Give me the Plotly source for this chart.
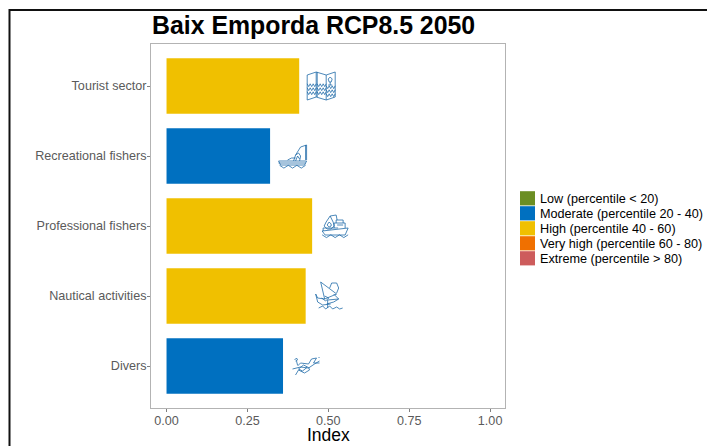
import plotly.graph_objects as go

# ---- data -------------------------------------------------------------
categories = ["Divers", "Nautical activities", "Professional fishers",
              "Recreational fishers", "Tourist sector"]
index_values = [0.36, 0.43, 0.45, 0.32, 0.41]
value_levels = [1, 2, 2, 1, 2]
legend_labels = ["Low (percentile < 20)", "Moderate (percentile 20 - 40)",
                 "High (percentile 40 - 60)", "Very high (percentile 60 - 80)",
                 "Extreme (percentile > 80)"]
legend_colors = ["#6B8E23", "#0070C0", "#F0C000", "#F07000", "#CD5C5C"]
x_ticks = [0, 0.25, 0.5, 0.75, 1]
x_tick_labels = ["0.00", "0.25", "0.50", "0.75", "1.00"]

# ---- icons: polylines, local pixels around the icon centre, y downwards --
wave = lambda x0, x1, y: [(x0 + i * (x1 - x0) / 6, y + (1.6 if i % 2 else -1.2)) for i in range(7)]
ICON_MAP = [
    [(-14, -11), (-5, -14), (5, -11), (14, -14), (14, 11), (5, 14), (-5, 11), (-14, 14), (-14, -11)],
    [(-5, -14), (-5, 11)], [(-4, -14), (-4, 11)], [(5, -11), (5, 14)],
    wave(-14, -5, -1), wave(-14, -5, 3), wave(-14, -5, 7),
    wave(-4, 5, -1), wave(-4, 5, 3), wave(-4, 5, 7),
    wave(5, 14, 1), wave(5, 14, 5), wave(5, 14, 9),
    [(7, -7), (9, -9), (11, -7), (10, -4), (8, -4), (7, -7)], [(9, -4), (9, -1)], [(7, -1), (11, -1)],
]
ICON_FISHER = [
    [(-14, 5), (14, 5), (12, 9), (-12, 9), (-14, 5)],
    [(-14, 7), (13, 7)],
    wave(-13, 13, 10.5),
    [(1, 5), (3, -1), (6, -3), (8, 0), (7, 5)],
    [(3, 5), (5, 0), (7, 3)],
    [(3, -1), (8, -9), (14, -11), (14, 4)],
    [(13, -11), (13, 4)],
    [(-5, 4), (-1, 2), (3, 2)],
]
ICON_SHIP = [
    [(-13, 5), (13, 2), (10, 9), (-10, 9), (-13, 5)],
    [(-12, 5), (-12, 2), (3, 2)],
    [(-1, 2), (-1, -3), (10, -3), (10, 2)],
    [(1, -3), (1, -6), (8, -6), (8, -3)], [(2, -1), (8, -1)],
    [(-5, -10), (-9, -4), (-11, 0), (-8, 3), (-4, 3), (-1, 0), (-2, -4), (-5, -10)],
    [(-6, -4), (-8, -1), (-6, 1), (-4, 0), (-4, -2), (-6, -4)],
    [(-5, -10), (1, -11), (2, -6)],
    wave(-13, 13, 10),
]
ICON_SAIL = [
    [(-8, -14), (8, -2), (-4, 3), (-8, -14)],
    [(1, -8), (3, -13), (8, -13), (10, -8), (8, -3)],
    [(5, -2), (10, 3), (5, 6), (-2, 8)],
    [(-4, 3), (-11, 2), (-13, -2), (-11, 6), (-6, 9), (2, 8)],
    [(-7, 2), (-3, 5), (0, 2), (-4, 0)], [(-1, 4), (10, 3)],
    [(-1, 4), (-1, 12)],
    [(-10, 12), (-6, 10), (-3, 13), (1, 10), (4, 13), (8, 11), (11, 13), (14, 12)],
]
ICON_DIVER = [
    [(-13, 3), (-5, 1), (3, 2), (9, -2), (14, -5)],
    [(-8, 0), (-5, -3), (3, -2), (6, -7)],
    [(6, -7), (11, -8), (8, -3), (14, -3)],
    [(-10, 9), (-7, 4), (-1, 7), (4, 4), (3, 1)],
    [(-7, 3), (-3, 5), (2, 1), (-2, -1), (-7, 3)],
    [(-11, -6), (-9, -8), (-8, -6), (-10, -5)],
    [(-9, -5), (-8, -1)],
    [(13, -8), (14, -9)],
]
ICONS = [(ICON_DIVER, 22.5), (ICON_SAIL, 23), (ICON_SHIP, 23), (ICON_FISHER, 22.5), (ICON_MAP, 22)]
ICON_COLOR = "#1F6BA8"

# ---- page geometry ----------------------------------------------------
W, H = 707, 446
L, R, T, B = 151, 505, 43.6, 407.6
px = lambda x: (x - L) / (R - L)
py = lambda y: (B - y) / (B - T)

fig = go.Figure(go.Bar(
    y=categories, x=index_values, orientation="h", width=0.79,
    marker=dict(color=[legend_colors[i] for i in value_levels], line_width=0),
    showlegend=False, hoverinfo="x+y",
))

shapes = []
for cat, val, (icon, dx) in zip(categories, index_values, ICONS):
    path = " ".join(
        "M" + " L".join(f"{x + dx:.1f} {-y:.1f}" for x, y in line) for line in icon
    )
    shapes.append(dict(type="path", path=path, xref="x", yref="y",
                       xsizemode="pixel", ysizemode="pixel",
                       xanchor=val, yanchor=cat,
                       line=dict(color=ICON_COLOR, width=0.8)))

annotations = []
for i, (label, color) in enumerate(zip(legend_labels, legend_colors)):
    top = 190.5 + i * 15
    shapes.append(dict(type="rect", xref="paper", yref="paper",
                       x0=px(520), x1=px(535), y0=py(top + 14.5), y1=py(top + 0.3),
                       fillcolor=color, line_width=0))
    annotations.append(dict(text=label, xref="paper", yref="paper",
                            x=px(540), y=py(top + 7.7), xanchor="left", yanchor="middle",
                            showarrow=False, xshift=-2,
                            font=dict(family="Liberation Sans", size=12.65, color="#000000")))

# outer black frame that runs off the right and bottom of the image
shapes.append(dict(type="path", xref="paper", yref="paper",
                   path=f"M{px(9.5)} {py(446)} L{px(9.5)} {py(9.5)} L{px(707)} {py(9.5)}",
                   line=dict(color="#111111", width=2)))

annotations.append(dict(text="<b>Baix Emporda RCP8.5 2050</b>", xref="paper", yref="paper",
                        x=px(150), y=py(25), xanchor="left", yanchor="middle", showarrow=False,
                        font=dict(family="Liberation Sans", size=24.85, color="#000000")))
annotations.append(dict(text="Index", xref="paper", yref="paper",
                        x=px(328), y=py(435), xanchor="center", yanchor="middle", showarrow=False,
                        font=dict(family="Liberation Sans", size=17.5, color="#000000")))

tick_font = dict(family="Liberation Sans", size=12.6, color="#5A5A5A")
fig.update_layout(
    width=W, height=H, autosize=False,
    margin=dict(l=L, r=W - R, t=T, b=H - B, pad=0),
    paper_bgcolor="white", plot_bgcolor="white",
    shapes=shapes, annotations=annotations, showlegend=False,
    xaxis=dict(range=[-0.048, 1.046], tickvals=x_ticks, ticktext=x_tick_labels,
               showgrid=False, zeroline=False, mirror=True, showline=True,
               linecolor="#B3B3B3", linewidth=1, ticks="outside", ticklen=3,
               tickcolor="#7F7F7F", tickwidth=1, tickfont=tick_font, ticklabelstandoff=-2),
    yaxis=dict(categoryorder="array", categoryarray=categories, range=[-0.6, 4.6],
               showgrid=False, zeroline=False, mirror=True, showline=True,
               linecolor="#B3B3B3", linewidth=1, ticks="outside", ticklen=3,
               tickcolor="#7F7F7F", tickwidth=1, tickfont=tick_font, ticklabelstandoff=-2),
)

fig.write_html("out.html", config={"displayModeBar": False},
               post_script="document.body.style.margin='0';window.dispatchEvent(new Event('resize'));")
